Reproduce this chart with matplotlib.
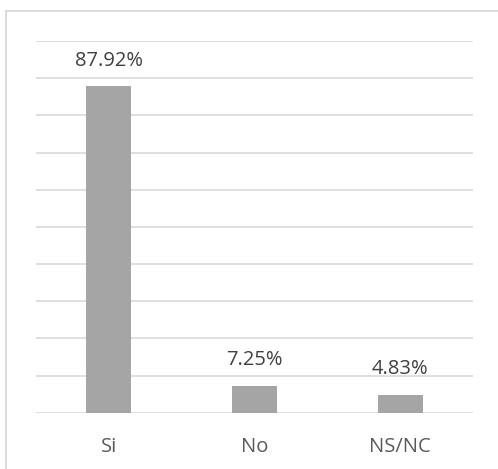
import matplotlib
matplotlib.use("Agg")
import matplotlib.pyplot as plt
from matplotlib.lines import Line2D

categories = ["Si", "No", "NS/NC"]
values = [87.92, 7.25, 4.83]
labels = ["87.92%", "7.25%", "4.83%"]

W, H = 498, 469
fig = plt.figure(figsize=(W / 100, H / 100), dpi=100)
fig.patch.set_facecolor("white")

# outer border (only left and top edges are visible in the crop)
bx, by = 6 / W, 1 - 11.5 / H
fig.add_artist(Line2D([bx, bx], [0, by], transform=fig.transFigure, color="#D9D9D9", linewidth=1.3))
fig.add_artist(Line2D([bx, 1], [by, by], transform=fig.transFigure, color="#D9D9D9", linewidth=1.3))

left, right = 36, 473
top, bottom = 41, 412.7
ax = fig.add_axes([left / W, 1 - bottom / H, (right - left) / W, (bottom - top) / H])
ax.set_xlim(-0.5, 2.5)
ax.set_ylim(0, 100)
ax.set_yticks(range(0, 101, 10))
ax.yaxis.grid(True, color="#D9D9D9", linewidth=1.2)
ax.set_axisbelow(True)
for s in ax.spines.values():
    s.set_visible(False)
ax.tick_params(axis="y", left=False, labelleft=False)
ax.tick_params(axis="x", bottom=False, pad=14)

x = range(len(categories))
bars = ax.bar(x, values, width=0.31, color="#A5A5A5", zorder=3)
ax.set_xticks(list(x))
ax.set_xticklabels(categories, fontsize=14.5, color="#595959", family="Open Sans")

for b, lab in zip(bars, labels):
    ax.annotate(lab, (b.get_x() + b.get_width() / 2, b.get_height()),
                xytext=(0, 11), textcoords="offset points", ha="center", va="bottom",
                fontsize=14.5, color="#404040", family="Open Sans")

fig.savefig("out.png", dpi=100)
